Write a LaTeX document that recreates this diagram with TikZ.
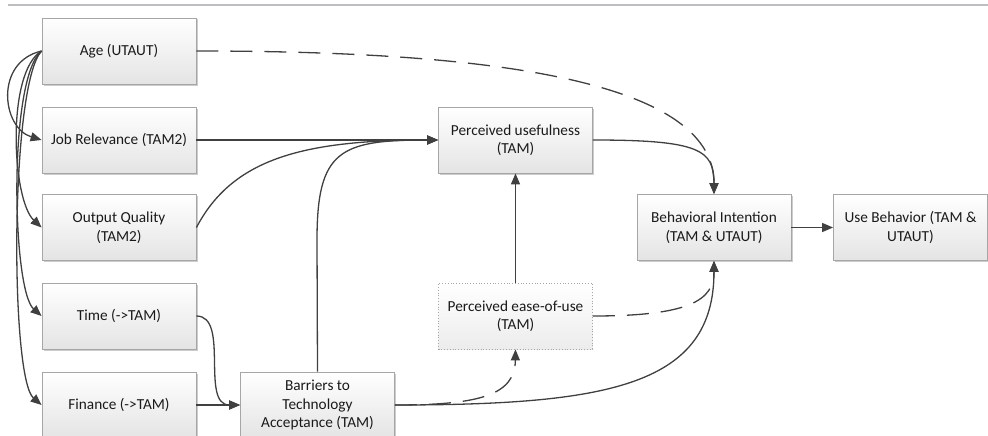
\documentclass[tikz,border=0pt]{standalone}
\usepackage{fontspec}
\setmainfont{Carlito}
\usetikzlibrary{arrows.meta,shadows}
\definecolor{linec}{HTML}{404040}
\definecolor{boxline}{HTML}{A6A6A6}
\definecolor{boxbot}{HTML}{E4E4E4}
\definecolor{rulec}{HTML}{BDBDC2}
\definecolor{textc}{HTML}{1A1A1A}
\begin{document}
\begin{tikzpicture}[x=1pt,y=-1pt,
  boxbase/.style={line width=0.8pt, minimum width=154pt, minimum height=66pt,
    align=center, inner sep=2pt, text=textc,
    font=\fontsize{15.3}{18.5}\selectfont},
  box/.style={boxbase, draw=boxline, top color=white, bottom color=boxbot,
    drop shadow={shadow xshift=1.5pt, shadow yshift=-1.5pt, fill=black!20, opacity=1}},
  ghostbox/.style={boxbase, draw=boxline, dotted, top color=white, bottom color=boxbot!70},
  link/.style={draw=linec, line width=1.3pt, -{Triangle[length=11pt,width=9pt]}},
  dlink/.style={link, dash pattern=on 22pt off 12pt},
]
\useasboundingbox (0,0) rectangle (988,436);

% header rule
\draw[rulec, line width=2pt] (8,5.5) -- (988,5.5);

% left column
\node[box] (age)  at (119,51)    {Age (UTAUT)};
\node[box] (jr)   at (119,140)   {Job Relevance (TAM2)};
\node[box] (oq)   at (119,227.5) {Output Quality\\(TAM2)};
\node[box] (time) at (119,316)   {Time (->TAM)};
\node[box] (fin)  at (119,405)   {Finance (->TAM)};

% middle
\node[box] (bar)  at (317.5,405) {Barriers to\\Technology\\Acceptance (TAM)};
\node[box] (pu)   at (515.5,140) {Perceived usefulness\\(TAM)};
\node[ghostbox] (peou) at (515.5,316) {Perceived ease-of-use\\(TAM)};

% right
\node[box] (bi)   at (714,227.5) {Behavioral Intention\\(TAM \& UTAUT)};
\node[box] (ub)   at (910.5,227.5) {Use Behavior (TAM \&\\UTAUT)};

% age to the other antecedents
\draw[link] (age.west) .. controls (-6,62) and (2,128) .. (jr.west);
\draw[link] (age.west) .. controls (6,72) and (12,200) .. (oq.west);
\draw[link] (age.west) .. controls (8,78) and (12,290) .. (time.west);
\draw[link] (age.west) .. controls (10,84) and (10,378) .. (fin.west);

% age to intention (dashed)
\draw[dlink] (age.east) .. controls (480,51) and (714,78) .. (bi.north);

% antecedents to usefulness
\draw[link] (jr.east) -- (pu.west);
\draw[link] (oq.east) .. controls (232,160) and (300,140) .. (pu.west);
\draw[link] (bar.north) -- (317,240) .. controls (317,150) and (340,140) .. (pu.west);

% time and finance to barriers
\draw[link] (time.east) .. controls (230,316) and (200,405) .. (bar.west);
\draw[link] (fin.east) -- (bar.west);

% barriers onwards
\draw[dlink] (bar.east) .. controls (480,405) and (515,395) .. (peou.south);
\draw[link] (bar.east) .. controls (610,405) and (714,385) .. (bi.south);

% ease-of-use
\draw[link] (peou.north) -- (pu.south);
\draw[dlink] (peou.east) .. controls (690,316) and (714,300) .. (bi.south);

% usefulness to intention, intention to behaviour
\draw[link] (pu.east) .. controls (700,140) and (714,150) .. (bi.north);
\draw[link] (bi.east) -- (ub.west);
\end{tikzpicture}
\end{document}
